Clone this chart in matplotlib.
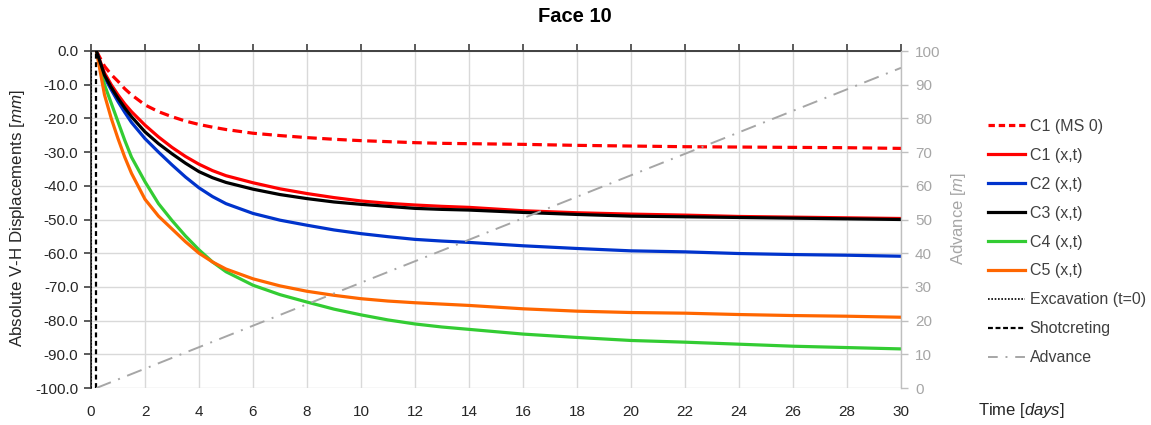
import matplotlib
matplotlib.use("Agg")
import matplotlib.pyplot as plt
from matplotlib.lines import Line2D
from matplotlib.ticker import MultipleLocator, FormatStrFormatter

plt.rcParams['font.family'] = ['Liberation Sans', 'DejaVu Sans']
plt.rcParams['axes.unicode_minus'] = False
plt.rcParams['mathtext.fontset'] = 'custom'
plt.rcParams['mathtext.it'] = 'Liberation Sans:italic'
plt.rcParams['mathtext.rm'] = 'Liberation Sans'

# ── Monitoring data (time in days, displacement in mm) ──────────────────────
t = [0.2, 0.5, 0.75, 1, 1.25, 1.5, 2, 2.5, 3, 3.5, 4, 4.5, 5, 6, 7, 8, 9, 10,
     11, 12, 13, 14, 16, 18, 20, 22, 24, 26, 28, 30]

c1_ms0 = [0, -4.5, -7.0, -9.0, -11.2, -13.0, -16.0, -18.0, -19.5, -20.8, -21.8,
          -22.6, -23.3, -24.4, -25.1, -25.7, -26.2, -26.6, -26.9, -27.2, -27.4,
          -27.5, -27.7, -28.0, -28.2, -28.4, -28.5, -28.6, -28.7, -28.9]
c1 = [0, -6.5, -10.0, -13.0, -15.7, -18.0, -22.0, -25.5, -28.6, -31.3, -33.6,
      -35.5, -37.0, -39.1, -40.9, -42.3, -43.5, -44.5, -45.2, -45.7, -46.1,
      -46.4, -47.4, -48.0, -48.4, -48.7, -49.1, -49.3, -49.5, -49.7]
c2 = [0, -7.8, -11.5, -15.0, -18.2, -21.2, -26.0, -30.0, -33.8, -37.4, -40.6,
      -43.2, -45.3, -48.2, -50.2, -51.7, -53.1, -54.2, -55.1, -55.9, -56.4,
      -56.8, -57.8, -58.6, -59.3, -59.6, -60.1, -60.4, -60.6, -60.9]
c3 = [0, -7.2, -10.8, -14.0, -16.9, -19.5, -24.0, -27.5, -30.5, -33.3, -35.8,
      -37.6, -39.0, -41.0, -42.6, -43.8, -44.8, -45.5, -46.1, -46.7, -47.0,
      -47.2, -47.9, -48.5, -49.0, -49.2, -49.4, -49.6, -49.8, -50.0]
c4 = [0, -10.0, -15.5, -21.0, -26.5, -31.5, -38.8, -45.3, -50.3, -54.9, -59.0,
      -62.6, -65.5, -69.5, -72.3, -74.5, -76.6, -78.3, -79.8, -81.0, -81.9,
      -82.6, -84.0, -85.0, -85.9, -86.4, -87.0, -87.6, -88.0, -88.4]
c5 = [0, -13.0, -20.0, -26.0, -31.5, -36.3, -44.0, -49.0, -52.8, -56.6, -60.0,
      -62.6, -64.7, -67.6, -69.7, -71.3, -72.5, -73.5, -74.2, -74.7, -75.1,
      -75.5, -76.5, -77.2, -77.6, -77.8, -78.2, -78.5, -78.7, -79.0]

# excavation / shotcreting times and face advance (m)
t_excavation = 0.0
t_shotcrete = 0.17
adv_t = [0.2, 30]
adv_m = [0, 95]

fig = plt.figure(figsize=(11.51, 4.25), dpi=100)
ax = fig.add_axes([91 / 1151, 1 - 388 / 425, 810 / 1151, 337 / 425])
ax2 = ax.twinx()

lw = 2.3
ax.plot(t, c1_ms0, color='#ff0000', lw=lw, dashes=(3, 1.7), zorder=4)
ax.plot(t, c1, color='#ff0000', lw=lw, zorder=4)
ax.plot(t, c2, color='#0033cc', lw=lw, zorder=4)
ax.plot(t, c3, color='black', lw=lw, zorder=5)
ax.plot(t, c4, color='#33cc33', lw=lw, zorder=4)
ax.plot(t, c5, color='#ff6600', lw=lw, zorder=4)
ax.axvline(t_excavation, color='black', lw=1.2, ls=(0, (1, 1)), zorder=3)
ax.axvline(t_shotcrete, color='black', lw=1.6, dashes=(2.2, 1.6), zorder=6)

ax2.plot(adv_t, adv_m, color='#a6a6a6', lw=1.4, dashes=(8, 4, 1, 4))

# left axis
ax.set_xlim(0, 30)
ax.set_ylim(-100, 0)
ax.xaxis.set_major_locator(MultipleLocator(2))
ax.yaxis.set_major_locator(MultipleLocator(10))
ax.yaxis.set_major_formatter(FormatStrFormatter('%.1f'))
ax.grid(True, color='#d9d9d9', lw=1)
ax.set_axisbelow(True)
ax.tick_params(axis='x', top=True, bottom=False, labeltop=False, labelbottom=True,
               direction='out', length=5, width=1.2, color='#404040',
               labelsize=11, labelcolor='#262626', pad=7)
ax.tick_params(axis='y', direction='out', length=5, width=1.2, color='#404040',
               labelsize=11, labelcolor='#262626', pad=4)
for side in ['bottom', 'right']:
    ax.spines[side].set_visible(False)
for side in ['left', 'top']:
    ax.spines[side].set_color('#404040')
    ax.spines[side].set_linewidth(1.4)

# right axis
ax2.set_ylim(0, 100)
ax2.yaxis.set_major_locator(MultipleLocator(10))
ax2.tick_params(axis='y', direction='out', length=5, width=1, color='#bfbfbf',
                labelsize=11, labelcolor='#a6a6a6', pad=5)
for side in ['left', 'top', 'bottom']:
    ax2.spines[side].set_visible(False)
ax2.spines['right'].set_color('#bfbfbf')
ax2.spines['right'].set_linewidth(1)

fig.text(575 / 1151, 1 - 16 / 425, 'Face 10', ha='center', va='center',
         fontsize=14.5, fontweight='bold')
fig.text(18 / 1151, 1 - 218 / 425, r'Absolute V-H Displacements $\it{[mm]}$',
         rotation=90, ha='center', va='center', fontsize=12.2, color='#262626')
fig.text(959 / 1151, 1 - 218 / 425, r'Advance $\it{[m]}$', rotation=90,
         ha='center', va='center', fontsize=12, color='#a6a6a6')
fig.text(978 / 1151, 1 - 410 / 425, r'Time $\it{[days]}$', ha='left', va='center',
         fontsize=12, color='#262626')

handles = [
    Line2D([], [], color='#ff0000', lw=lw, dashes=(2, 1.2)),
    Line2D([], [], color='#ff0000', lw=lw),
    Line2D([], [], color='#0033cc', lw=lw),
    Line2D([], [], color='black', lw=lw),
    Line2D([], [], color='#33cc33', lw=lw),
    Line2D([], [], color='#ff6600', lw=lw),
    Line2D([], [], color='black', lw=1.2, ls=(0, (1, 1))),
    Line2D([], [], color='black', lw=1.6, dashes=(2.2, 1.2)),
    Line2D([], [], color='#a6a6a6', lw=1.4, dashes=(5, 4, 1, 4)),
]
labels = ['C1 (MS 0)', 'C1 (x,t)', 'C2 (x,t)', 'C3 (x,t)', 'C4 (x,t)',
          'C5 (x,t)', 'Excavation (t=0)', 'Shotcreting', 'Advance']
fig.legend(handles, labels, loc='upper left', bbox_to_anchor=(988 / 1151, 1 - 119 / 425),
           frameon=False, fontsize=11.5, handlelength=2.3, handletextpad=0.3,
           labelspacing=0.87, borderpad=0, borderaxespad=0, labelcolor='#404040')

fig.savefig('out.png', dpi=100)
